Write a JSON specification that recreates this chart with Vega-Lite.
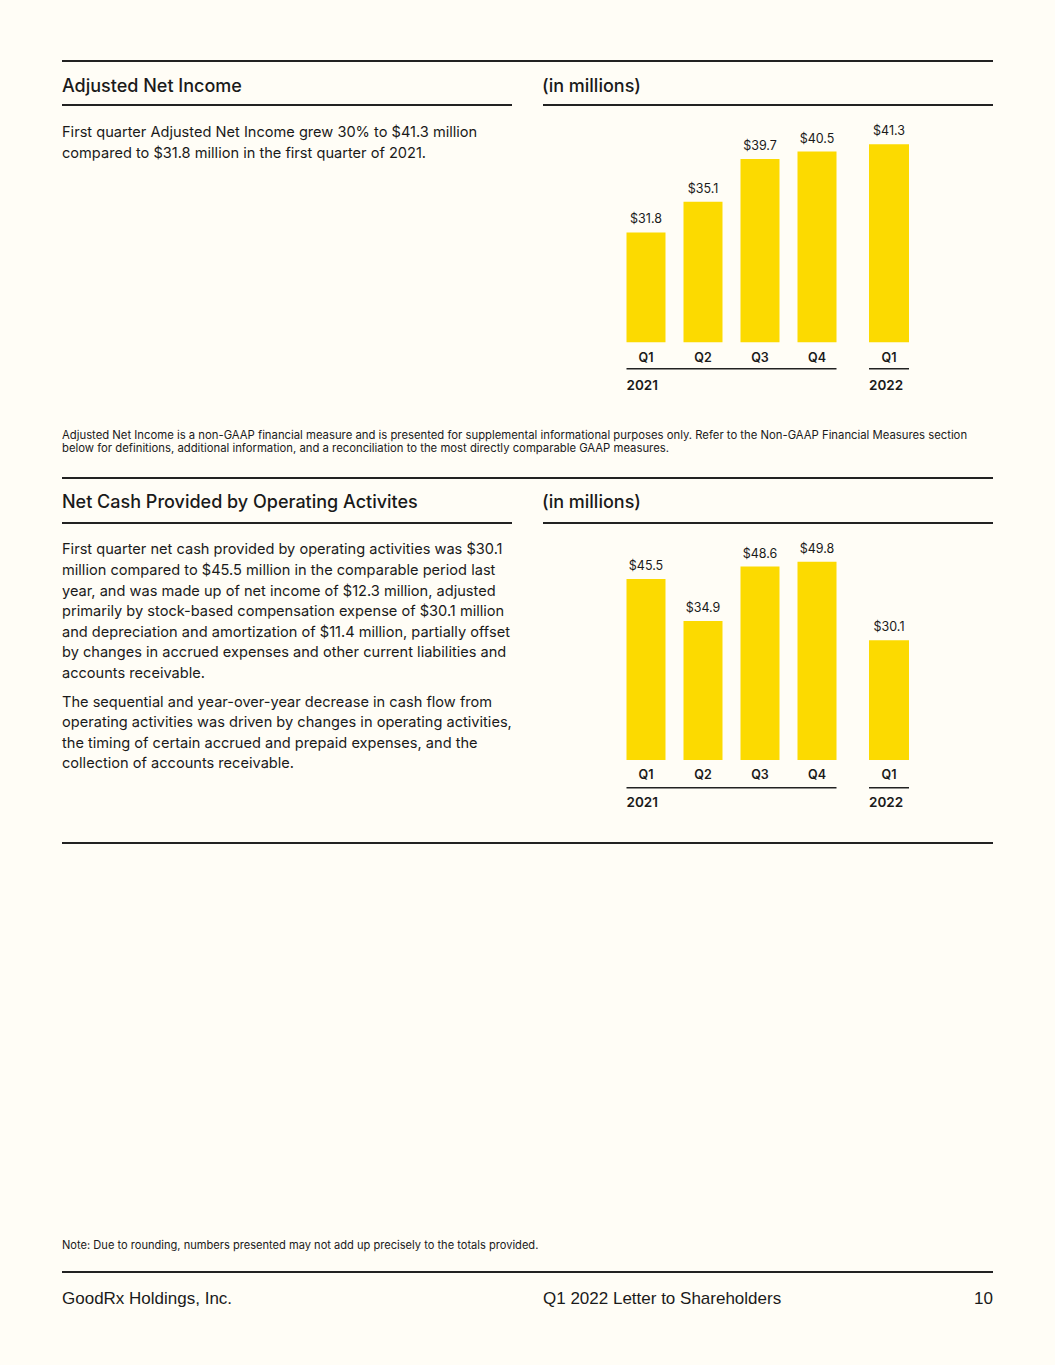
{
  "$schema": "https://vega.github.io/schema/vega-lite/v6.json",
  "background": "#FFFDF6",
  "padding": {"top": 60, "left": 61, "right": 62, "bottom": 43},
  "spacing": 0,
  "config": {"view": {"stroke": null}},
  "datasets": {
    "netIncome": [
      {"year": "2021", "quarter": "Q1", "value": 31.8},
      {"year": "2021", "quarter": "Q2", "value": 35.1},
      {"year": "2021", "quarter": "Q3", "value": 39.7},
      {"year": "2021", "quarter": "Q4", "value": 40.5},
      {"year": "2022", "quarter": "Q1", "value": 41.3}
    ],
    "cashFlow": [
      {"year": "2021", "quarter": "Q1", "value": 45.5},
      {"year": "2021", "quarter": "Q2", "value": 34.9},
      {"year": "2021", "quarter": "Q3", "value": 48.6},
      {"year": "2021", "quarter": "Q4", "value": 49.8},
      {"year": "2022", "quarter": "Q1", "value": 30.1}
    ]
  },
  "vconcat": [
    {
      "width": 931, "height": 2,
      "data": {"values": [{}]},
      "mark": {"type": "rule", "color": "#222222", "strokeWidth": 1.8},
      "encoding": {"y": {"datum": 0.5, "type": "quantitative", "scale": {"domain": [0, 1]}, "axis": null}}
    },
    {
      "hconcat": [
        {
          "width": 450, "height": 41.5,
          "data": {"values": [{"text": "Adjusted Net Income"}]},
          "mark": {"type": "text", "align": "left", "baseline": "middle", "dy": 4, "font": "Inter", "fontSize": 18, "fontWeight": 500, "color": "#1a1a1a"},
          "encoding": {"x": {"datum": 0, "type": "quantitative", "scale": {"domain": [0, 1]}, "axis": null}, "text": {"field": "text"}}
        },
        {
          "width": 450, "height": 41.5,
          "data": {"values": [{"text": "(in millions)"}]},
          "mark": {"type": "text", "align": "left", "baseline": "middle", "dy": 4, "font": "Inter", "fontSize": 18, "fontWeight": 500, "color": "#1a1a1a"},
          "encoding": {"x": {"datum": 0, "type": "quantitative", "scale": {"domain": [0, 1]}, "axis": null}, "text": {"field": "text"}}
        }
      ],
      "spacing": 30
    },
    {
      "hconcat": [
        {
          "width": 450, "height": 2,
          "data": {"values": [{}]},
          "mark": {"type": "rule", "color": "#222222", "strokeWidth": 1.8},
          "encoding": {"y": {"datum": 0.5, "type": "quantitative", "scale": {"domain": [0, 1]}, "axis": null}}
        },
        {
          "width": 450, "height": 2,
          "data": {"values": [{}]},
          "mark": {"type": "rule", "color": "#222222", "strokeWidth": 1.8},
          "encoding": {"y": {"datum": 0.5, "type": "quantitative", "scale": {"domain": [0, 1]}, "axis": null}}
        }
      ],
      "spacing": 29
    },
    {
      "hconcat": [
        {
          "width": 470, "height": 60,
          "data": {"values": [
            {"line": 1, "text": "First quarter Adjusted Net Income grew 30% to $41.3 million"},
            {"line": 2, "text": "compared to $31.8 million in the first quarter of 2021."}
          ]},
          "mark": {"type": "text", "align": "left", "baseline": "middle", "font": "Inter", "fontSize": 14.6, "color": "#1a1a1a"},
          "encoding": {
            "x": {"datum": 0, "type": "quantitative", "scale": {"domain": [0, 1]}, "axis": null},
            "y": {"field": "line", "type": "quantitative", "scale": {"domain": [-0.311, 2.602], "reverse": true, "nice": false, "zero": false}, "axis": null},
            "text": {"field": "text"}
          }
        },
        {
          "hconcat": [
            {
              "width": 210, "height": 290,
              "data": {"name": "netIncome"},
              "transform": [{"filter": {"field": "year", "equal": "2021"}}],
              "layer": [
                {"mark": {"type": "bar", "color": "#FCDA00"},
                 "encoding": {
                   "x": {"field": "quarter", "type": "nominal", "sort": null, "scale": {"paddingInner": 0.3158, "paddingOuter": 0}, "axis": null},
                   "y": {"field": "value", "type": "quantitative", "scale": {"domain": [14.215, 45.4], "nice": false, "zero": false}, "axis": null},
                   "y2": {"datum": 20}}},
                {"mark": {"type": "text", "baseline": "middle", "dy": -13, "font": "Inter", "fontSize": 12.5, "color": "#1a1a1a"},
                 "encoding": {
                   "x": {"field": "quarter", "type": "nominal", "sort": null},
                   "y": {"field": "value", "type": "quantitative"},
                   "text": {"field": "value", "type": "quantitative", "format": "$.1f"}}},
                {"mark": {"type": "text", "baseline": "middle", "dy": 16, "font": "Inter", "fontSize": 12.5, "fontWeight": 600, "color": "#1a1a1a"},
                 "encoding": {
                   "x": {"field": "quarter", "type": "nominal", "sort": null},
                   "y": {"datum": 20, "type": "quantitative"},
                   "text": {"field": "quarter"}}},
                {"data": {"values": [{}]},
                 "mark": {"type": "rule", "color": "#222222", "strokeWidth": 1.5},
                 "encoding": {"y": {"datum": 17.14, "type": "quantitative"}}},
                {"transform": [{"filter": {"field": "quarter", "equal": "Q1"}}],
                 "mark": {"type": "text", "align": "left", "baseline": "middle", "font": "Inter", "fontSize": 13.5, "fontWeight": 600, "color": "#1a1a1a"},
                 "encoding": {
                   "x": {"field": "quarter", "type": "nominal", "sort": null, "bandPosition": 0},
                   "y": {"datum": 15.24, "type": "quantitative"},
                   "text": {"field": "year"}}}
              ]
            },
            {
              "width": 40, "height": 290,
              "data": {"name": "netIncome"},
              "transform": [{"filter": {"field": "year", "equal": "2022"}}],
              "layer": [
                {"mark": {"type": "bar", "color": "#FCDA00"},
                 "encoding": {
                   "x": {"field": "quarter", "type": "nominal", "sort": null, "scale": {"paddingInner": 0, "paddingOuter": 0}, "axis": null},
                   "y": {"field": "value", "type": "quantitative", "scale": {"domain": [14.215, 45.4], "nice": false, "zero": false}, "axis": null},
                   "y2": {"datum": 20}}},
                {"mark": {"type": "text", "baseline": "middle", "dy": -13, "font": "Inter", "fontSize": 12.5, "color": "#1a1a1a"},
                 "encoding": {
                   "x": {"field": "quarter", "type": "nominal", "sort": null},
                   "y": {"field": "value", "type": "quantitative"},
                   "text": {"field": "value", "type": "quantitative", "format": "$.1f"}}},
                {"mark": {"type": "text", "baseline": "middle", "dy": 16, "font": "Inter", "fontSize": 12.5, "fontWeight": 600, "color": "#1a1a1a"},
                 "encoding": {
                   "x": {"field": "quarter", "type": "nominal", "sort": null},
                   "y": {"datum": 20, "type": "quantitative"},
                   "text": {"field": "quarter"}}},
                {"data": {"values": [{}]},
                 "mark": {"type": "rule", "color": "#222222", "strokeWidth": 1.5},
                 "encoding": {"y": {"datum": 17.14, "type": "quantitative"}}},
                {"mark": {"type": "text", "align": "left", "baseline": "middle", "font": "Inter", "fontSize": 13.5, "fontWeight": 600, "color": "#1a1a1a"},
                 "encoding": {
                   "x": {"field": "quarter", "type": "nominal", "sort": null, "bandPosition": 0},
                   "y": {"datum": 15.24, "type": "quantitative"},
                   "text": {"field": "year"}}}
              ]
            }
          ],
          "spacing": 30.5
        }
      ],
      "spacing": 93.5
    },
    {
      "width": 931, "height": 80.5,
      "data": {"values": [
        {"line": 1, "text": "Adjusted Net Income is a non-GAAP financial measure and is presented for supplemental informational purposes only. Refer to the Non-GAAP Financial Measures section"},
        {"line": 2, "text": "below for definitions, additional information, and a reconciliation to the most directly comparable GAAP measures."}
      ]},
      "mark": {"type": "text", "align": "left", "baseline": "middle", "font": "Inter", "fontSize": 11.3, "color": "#1a1a1a"},
      "encoding": {
        "x": {"datum": 0, "type": "quantitative", "scale": {"domain": [0, 1]}, "axis": null},
        "y": {"field": "line", "type": "quantitative", "scale": {"domain": [-2.092, 4.1], "reverse": true, "nice": false, "zero": false}, "axis": null},
        "text": {"field": "text"}
      }
    },
    {
      "width": 931, "height": 2,
      "data": {"values": [{}]},
      "mark": {"type": "rule", "color": "#222222", "strokeWidth": 1.8},
      "encoding": {"y": {"datum": 0.5, "type": "quantitative", "scale": {"domain": [0, 1]}, "axis": null}}
    },
    {
      "hconcat": [
        {
          "width": 450, "height": 43,
          "data": {"values": [{"text": "Net Cash Provided by Operating Activites"}]},
          "mark": {"type": "text", "align": "left", "baseline": "middle", "dy": 2, "font": "Inter", "fontSize": 18, "fontWeight": 500, "color": "#1a1a1a"},
          "encoding": {"x": {"datum": 0, "type": "quantitative", "scale": {"domain": [0, 1]}, "axis": null}, "text": {"field": "text"}}
        },
        {
          "width": 450, "height": 43,
          "data": {"values": [{"text": "(in millions)"}]},
          "mark": {"type": "text", "align": "left", "baseline": "middle", "dy": 2, "font": "Inter", "fontSize": 18, "fontWeight": 500, "color": "#1a1a1a"},
          "encoding": {"x": {"datum": 0, "type": "quantitative", "scale": {"domain": [0, 1]}, "axis": null}, "text": {"field": "text"}}
        }
      ],
      "spacing": 30
    },
    {
      "hconcat": [
        {
          "width": 450, "height": 2,
          "data": {"values": [{}]},
          "mark": {"type": "rule", "color": "#222222", "strokeWidth": 1.8},
          "encoding": {"y": {"datum": 0.5, "type": "quantitative", "scale": {"domain": [0, 1]}, "axis": null}}
        },
        {
          "width": 450, "height": 2,
          "data": {"values": [{}]},
          "mark": {"type": "rule", "color": "#222222", "strokeWidth": 1.8},
          "encoding": {"y": {"datum": 0.5, "type": "quantitative", "scale": {"domain": [0, 1]}, "axis": null}}
        }
      ],
      "spacing": 29
    },
    {
      "hconcat": [
        {
          "vconcat": [
            {
              "width": 470, "height": 164,
              "data": {"values": [
                {"line": 1, "text": "First quarter net cash provided by operating activities was $30.1"},
                {"line": 2, "text": "million compared to $45.5 million in the comparable period last"},
                {"line": 3, "text": "year, and was made up of net income of $12.3 million, adjusted"},
                {"line": 4, "text": "primarily by stock-based compensation expense of $30.1 million"},
                {"line": 5, "text": "and depreciation and amortization of $11.4 million, partially offset"},
                {"line": 6, "text": "by changes in accrued expenses and other current liabilities and"},
                {"line": 7, "text": "accounts receivable."}
              ]},
              "mark": {"type": "text", "align": "left", "baseline": "middle", "font": "Inter", "fontSize": 14.6, "color": "#1a1a1a"},
              "encoding": {
                "x": {"datum": 0, "type": "quantitative", "scale": {"domain": [0, 1]}, "axis": null},
                "y": {"field": "line", "type": "quantitative", "scale": {"domain": [-0.2864, 7.6748], "reverse": true, "nice": false, "zero": false}, "axis": null},
                "text": {"field": "text"}
              }
            },
            {
              "width": 470, "height": 88.3,
              "data": {"values": [
                {"line": 1, "text": "The sequential and year-over-year decrease in cash flow from"},
                {"line": 2, "text": "operating activities was driven by changes in operating activities,"},
                {"line": 3, "text": "the timing of certain accrued and prepaid expenses, and the"},
                {"line": 4, "text": "collection of accounts receivable."}
              ]},
              "mark": {"type": "text", "align": "left", "baseline": "middle", "font": "Inter", "fontSize": 14.6, "color": "#1a1a1a"},
              "encoding": {
                "x": {"datum": 0, "type": "quantitative", "scale": {"domain": [0, 1]}, "axis": null},
                "y": {"field": "line", "type": "quantitative", "scale": {"domain": [0.2961, 4.5825], "reverse": true, "nice": false, "zero": false}, "axis": null},
                "text": {"field": "text"}
              }
            }
          ],
          "spacing": 0
        },
        {
          "hconcat": [
            {
              "width": 210, "height": 318,
              "data": {"name": "cashFlow"},
              "transform": [{"filter": {"field": "year", "equal": "2021"}}],
              "layer": [
                {"mark": {"type": "bar", "color": "#FCDA00"},
                 "encoding": {
                   "x": {"field": "quarter", "type": "nominal", "sort": null, "scale": {"paddingInner": 0.3158, "paddingOuter": 0}, "axis": null},
                   "y": {"field": "value", "type": "quantitative", "scale": {"domain": [-20.603, 59.296], "nice": false, "zero": false}, "axis": null},
                   "y2": {"datum": 0}}},
                {"mark": {"type": "text", "baseline": "middle", "dy": -13, "font": "Inter", "fontSize": 12.5, "color": "#1a1a1a"},
                 "encoding": {
                   "x": {"field": "quarter", "type": "nominal", "sort": null},
                   "y": {"field": "value", "type": "quantitative"},
                   "text": {"field": "value", "type": "quantitative", "format": "$.1f"}}},
                {"mark": {"type": "text", "baseline": "middle", "dy": 15, "font": "Inter", "fontSize": 12.5, "fontWeight": 600, "color": "#1a1a1a"},
                 "encoding": {
                   "x": {"field": "quarter", "type": "nominal", "sort": null},
                   "y": {"datum": 0, "type": "quantitative"},
                   "text": {"field": "quarter"}}},
                {"data": {"values": [{}]},
                 "mark": {"type": "rule", "color": "#222222", "strokeWidth": 1.5},
                 "encoding": {"y": {"datum": -6.96, "type": "quantitative"}}},
                {"transform": [{"filter": {"field": "quarter", "equal": "Q1"}}],
                 "mark": {"type": "text", "align": "left", "baseline": "middle", "font": "Inter", "fontSize": 13.5, "fontWeight": 600, "color": "#1a1a1a"},
                 "encoding": {
                   "x": {"field": "quarter", "type": "nominal", "sort": null, "bandPosition": 0},
                   "y": {"datum": -10.73, "type": "quantitative"},
                   "text": {"field": "year"}}}
              ]
            },
            {
              "width": 40, "height": 318,
              "data": {"name": "cashFlow"},
              "transform": [{"filter": {"field": "year", "equal": "2022"}}],
              "layer": [
                {"mark": {"type": "bar", "color": "#FCDA00"},
                 "encoding": {
                   "x": {"field": "quarter", "type": "nominal", "sort": null, "scale": {"paddingInner": 0, "paddingOuter": 0}, "axis": null},
                   "y": {"field": "value", "type": "quantitative", "scale": {"domain": [-20.603, 59.296], "nice": false, "zero": false}, "axis": null},
                   "y2": {"datum": 0}}},
                {"mark": {"type": "text", "baseline": "middle", "dy": -13, "font": "Inter", "fontSize": 12.5, "color": "#1a1a1a"},
                 "encoding": {
                   "x": {"field": "quarter", "type": "nominal", "sort": null},
                   "y": {"field": "value", "type": "quantitative"},
                   "text": {"field": "value", "type": "quantitative", "format": "$.1f"}}},
                {"mark": {"type": "text", "baseline": "middle", "dy": 15, "font": "Inter", "fontSize": 12.5, "fontWeight": 600, "color": "#1a1a1a"},
                 "encoding": {
                   "x": {"field": "quarter", "type": "nominal", "sort": null},
                   "y": {"datum": 0, "type": "quantitative"},
                   "text": {"field": "quarter"}}},
                {"data": {"values": [{}]},
                 "mark": {"type": "rule", "color": "#222222", "strokeWidth": 1.5},
                 "encoding": {"y": {"datum": -6.96, "type": "quantitative"}}},
                {"mark": {"type": "text", "align": "left", "baseline": "middle", "font": "Inter", "fontSize": 13.5, "fontWeight": 600, "color": "#1a1a1a"},
                 "encoding": {
                   "x": {"field": "quarter", "type": "nominal", "sort": null, "bandPosition": 0},
                   "y": {"datum": -10.73, "type": "quantitative"},
                   "text": {"field": "year"}}}
              ]
            }
          ],
          "spacing": 30.5
        }
      ],
      "spacing": 93.5
    },
    {
      "width": 931, "height": 2,
      "data": {"values": [{}]},
      "mark": {"type": "rule", "color": "#222222", "strokeWidth": 1.8},
      "encoding": {"y": {"datum": 0.5, "type": "quantitative", "scale": {"domain": [0, 1]}, "axis": null}}
    },
    {
      "width": 931, "height": 372,
      "data": {"values": []},
      "mark": "point"
    },
    {
      "width": 931, "height": 55,
      "data": {"values": [{"text": "Note: Due to rounding, numbers presented may not add up precisely to the totals provided."}]},
      "mark": {"type": "text", "align": "left", "baseline": "middle", "dy": 2, "font": "Inter", "fontSize": 11.1, "color": "#1a1a1a"},
      "encoding": {"x": {"datum": 0, "type": "quantitative", "scale": {"domain": [0, 1]}, "axis": null}, "text": {"field": "text"}}
    },
    {
      "width": 931, "height": 2,
      "data": {"values": [{}]},
      "mark": {"type": "rule", "color": "#222222", "strokeWidth": 1.8},
      "encoding": {"y": {"datum": 0.5, "type": "quantitative", "scale": {"domain": [0, 1]}, "axis": null}}
    },
    {
      "hconcat": [
        {
          "width": 450, "height": 50,
          "data": {"values": [{"text": "GoodRx Holdings, Inc."}]},
          "mark": {"type": "text", "align": "left", "baseline": "middle", "dy": 1, "font": "Liberation Sans", "fontSize": 17, "color": "#1a1a1a"},
          "encoding": {"x": {"datum": 0, "type": "quantitative", "scale": {"domain": [0, 1]}, "axis": null}, "text": {"field": "text"}}
        },
        {
          "width": 450, "height": 50,
          "layer": [
            {"data": {"values": [{"text": "Q1 2022 Letter to Shareholders"}]},
             "mark": {"type": "text", "align": "left", "baseline": "middle", "dy": 1, "font": "Liberation Sans", "fontSize": 17, "color": "#1a1a1a"},
             "encoding": {"x": {"datum": 0, "type": "quantitative", "scale": {"domain": [0, 1]}, "axis": null}, "text": {"field": "text"}}},
            {"data": {"values": [{"text": "10"}]},
             "mark": {"type": "text", "align": "right", "baseline": "middle", "dy": 1, "font": "Liberation Sans", "fontSize": 17, "color": "#1a1a1a"},
             "encoding": {"x": {"datum": 1, "type": "quantitative", "scale": {"domain": [0, 1]}, "axis": null}, "text": {"field": "text"}}}
          ]
        }
      ],
      "spacing": 31
    }
  ]
}
